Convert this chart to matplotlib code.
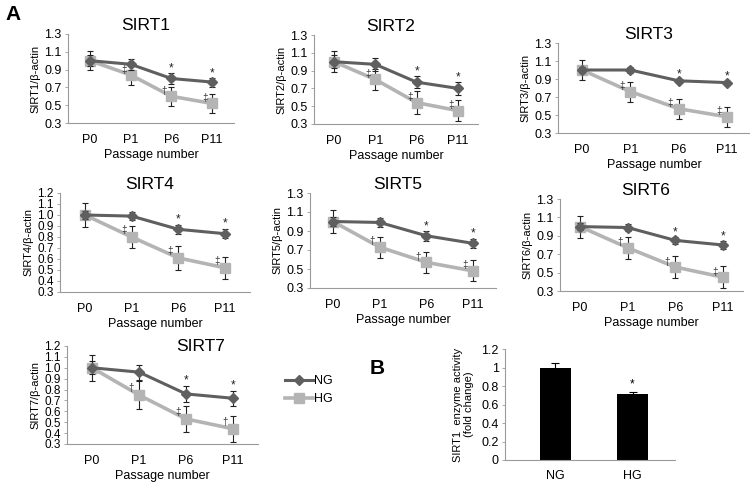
import matplotlib
matplotlib.use("Agg")
import matplotlib.pyplot as plt
from matplotlib.lines import Line2D
import numpy as np

plt.rcParams['font.family'] = ['Liberation Sans', 'DejaVu Sans']

passages = ["P0", "P1", "P6", "P11"]
genes = ["SIRT1", "SIRT2", "SIRT3", "SIRT4", "SIRT5", "SIRT6", "SIRT7"]

ng_means = {
    "SIRT1": [1.00, 0.96, 0.80, 0.76],
    "SIRT2": [1.00, 0.97, 0.77, 0.70],
    "SIRT3": [1.00, 1.00, 0.88, 0.86],
    "SIRT4": [1.00, 0.99, 0.87, 0.83],
    "SIRT5": [1.00, 0.99, 0.85, 0.77],
    "SIRT6": [1.00, 0.99, 0.85, 0.80],
    "SIRT7": [1.00, 0.96, 0.76, 0.72],
}
ng_err = {
    "SIRT1": [0.06, 0.06, 0.06, 0.05],
    "SIRT2": [0.07, 0.07, 0.07, 0.07],
    "SIRT3": [0.03, 0.03, 0.02, 0.02],
    "SIRT4": [0.04, 0.04, 0.04, 0.04],
    "SIRT5": [0.05, 0.05, 0.05, 0.05],
    "SIRT6": [0.04, 0.04, 0.04, 0.04],
    "SIRT7": [0.06, 0.07, 0.07, 0.07],
}
hg_means = {
    "SIRT1": [1.00, 0.84, 0.60, 0.52],
    "SIRT2": [1.00, 0.80, 0.54, 0.45],
    "SIRT3": [1.00, 0.76, 0.57, 0.48],
    "SIRT4": [1.00, 0.80, 0.61, 0.52],
    "SIRT5": [1.00, 0.73, 0.57, 0.48],
    "SIRT6": [1.00, 0.77, 0.56, 0.45],
    "SIRT7": [1.00, 0.75, 0.53, 0.44],
}
hg_err = {
    "SIRT1": [0.11, 0.11, 0.11, 0.11],
    "SIRT2": [0.12, 0.12, 0.13, 0.12],
    "SIRT3": [0.11, 0.11, 0.11, 0.11],
    "SIRT4": [0.11, 0.10, 0.11, 0.10],
    "SIRT5": [0.12, 0.11, 0.11, 0.11],
    "SIRT6": [0.12, 0.12, 0.12, 0.12],
    "SIRT7": [0.12, 0.13, 0.12, 0.12],
}
# significance marks next to HG points, stars above NG points
hg_marks = {
    "SIRT1": [(1, "‡"), (2, "†"), (3, "‡")],
    "SIRT2": [(1, "‡"), (2, "‡"), (3, "‡")],
    "SIRT3": [(1, "‡"), (2, "‡"), (3, "‡")],
    "SIRT4": [(1, "‡"), (2, "‡"), (3, "‡")],
    "SIRT5": [(1, "†"), (2, "†"), (3, "‡")],
    "SIRT6": [(1, "†"), (2, "†"), (3, "‡")],
    "SIRT7": [(1, "†"), (2, "‡"), (3, "†")],
}
ng_stars = {g: [2, 3] for g in genes}

bar_groups = ["NG", "HG"]
bar_values = [1.00, 0.71]
bar_errors = [0.05, 0.03]

W, H = 750, 482
fig = plt.figure(figsize=(7.5, 4.82), dpi=100)

# layout in pixels: axis left x, P0 x, P11 x, top y, bottom y
layout = {
    "SIRT1": (68, 90, 212, 34, 123),
    "SIRT2": (314, 334, 458, 35, 124),
    "SIRT3": (558, 582, 727, 43, 133),
    "SIRT4": (60, 85, 225, 193, 292),
    "SIRT5": (310, 333, 473, 193, 288),
    "SIRT6": (560, 580, 723, 199, 291),
    "SIRT7": (67, 92, 233, 346, 444),
}
ylims = {g: (0.3, 1.3) for g in genes}
ylims["SIRT4"] = (0.3, 1.2)
ylims["SIRT7"] = (0.3, 1.2)

NG_C = "#5f5f5f"
HG_C = "#b4b4b4"
SP_C = "#9a9a9a"

def make_axes(xL, p0, p11, top, bot):
    s = (p11 - p0) / 3.0
    off = (p0 - xL) / s
    right = p11 + (p0 - xL)
    ax = fig.add_axes([xL / W, 1 - bot / H, (right - xL) / W, (bot - top) / H])
    ax.set_xlim(-off, 3 + off)
    return ax

for g in genes:
    xL, p0, p11, top, bot = layout[g]
    ax = make_axes(xL, p0, p11, top, bot)
    x = np.arange(len(passages))
    ax.errorbar(x, hg_means[g], yerr=hg_err[g], color=HG_C, ecolor="#222222",
                elinewidth=0.8, capsize=2.5, capthick=0.8, lw=2.6,
                marker="s", ms=7.5, zorder=2)
    ax.errorbar(x, ng_means[g], yerr=ng_err[g], color=NG_C, ecolor="#222222",
                elinewidth=0.8, capsize=2.5, capthick=0.8, lw=2.2,
                marker="D", ms=5, zorder=3)
    lo, hi = ylims[g]
    ax.set_ylim(lo, hi)
    if hi == 1.2:
        ticks = np.round(np.arange(0.3, 1.21, 0.1), 1)
    else:
        ticks = np.round(np.arange(0.3, 1.31, 0.2), 1)
    ax.set_yticks(ticks)
    ax.set_yticklabels([f"{t:.1f}" for t in ticks])
    ax.set_xticks(x)
    ax.set_xticklabels(passages)
    ax.tick_params(axis="x", length=0, labelsize=9, pad=8)
    ax.tick_params(axis="y", length=2.5, width=0.6, color=SP_C,
                   labelsize=9 if hi != 1.2 else 8.5, pad=2)
    for sp in ["top", "right"]:
        ax.spines[sp].set_visible(False)
    for sp in ["left", "bottom"]:
        ax.spines[sp].set_color(SP_C)
        ax.spines[sp].set_linewidth(0.8)
    ax.set_ylabel(f"{g}/β-actin", fontsize=8, labelpad=3)
    ax.set_xlabel("Passage number", fontsize=9, labelpad=2)
    if g == "SIRT7":
        ax.set_title(g, fontsize=12.5, x=0.7, y=0.86)
    else:
        ax.set_title(g, fontsize=12.5, pad=3, x=0.47)
    for i, sym in hg_marks[g]:
        ax.text(i - 0.17, hg_means[g][i] + 0.06, sym, fontsize=7,
                ha="center", va="center", color="#333333")
    for i in ng_stars[g]:
        ax.text(i, ng_means[g][i] + ng_err[g][i] + 0.05, "*", fontsize=8.5,
                ha="center", va="center", color="#222222")

legend_handles = [
    Line2D([], [], color=NG_C, lw=2.2, marker="D", ms=5),
    Line2D([], [], color=HG_C, lw=2.6, marker="s", ms=7.5),
]
fig.legend(legend_handles, ["NG", "HG"],
           loc="center left", bbox_to_anchor=(274 / W, 1 - 390 / H),
           frameon=False, fontsize=9, handlelength=2.2,
           handletextpad=0.1, labelspacing=0.5, markerfirst=True)

# Panel B
bL, bR, bT, bB = 505, 675, 349, 460
axb = fig.add_axes([bL / W, 1 - bB / H, (bR - bL) / W, (bB - bT) / H])
xb = np.arange(len(bar_groups))
axb.bar(xb, bar_values, width=0.4, color="black",
        yerr=bar_errors, error_kw=dict(ecolor="black", elinewidth=0.8,
                                       capsize=3, capthick=0.8))
axb.set_xlim(-0.65, 1.55)
axb.set_ylim(0, 1.2)
yt = [0, 0.2, 0.4, 0.6, 0.8, 1.0, 1.2]
axb.set_yticks(yt)
axb.set_yticklabels(["0", "0.2", "0.4", "0.6", "0.8", "1", "1.2"])
axb.set_xticks(xb)
axb.set_xticklabels(bar_groups)
axb.tick_params(axis="x", length=0, labelsize=9, pad=7)
axb.tick_params(axis="y", length=2.5, width=0.6, color=SP_C, labelsize=9, pad=2)
for sp in ["top", "right"]:
    axb.spines[sp].set_visible(False)
for sp in ["left", "bottom"]:
    axb.spines[sp].set_color(SP_C)
    axb.spines[sp].set_linewidth(0.8)
axb.set_ylabel("SIRT1  enzyme activity\n(fold change)", fontsize=8, labelpad=5)
axb.text(1, bar_values[1] + bar_errors[1] + 0.08, "*", fontsize=8.5,
         ha="center", va="center")

fig.text(13 / W, 1 - 15 / H, "A", fontsize=15, fontweight="bold",
         ha="center", va="center")
fig.text(377 / W, 1 - 368 / H, "B", fontsize=15, fontweight="bold",
         ha="center", va="center")

fig.savefig("out.png", dpi=100, facecolor="white")
